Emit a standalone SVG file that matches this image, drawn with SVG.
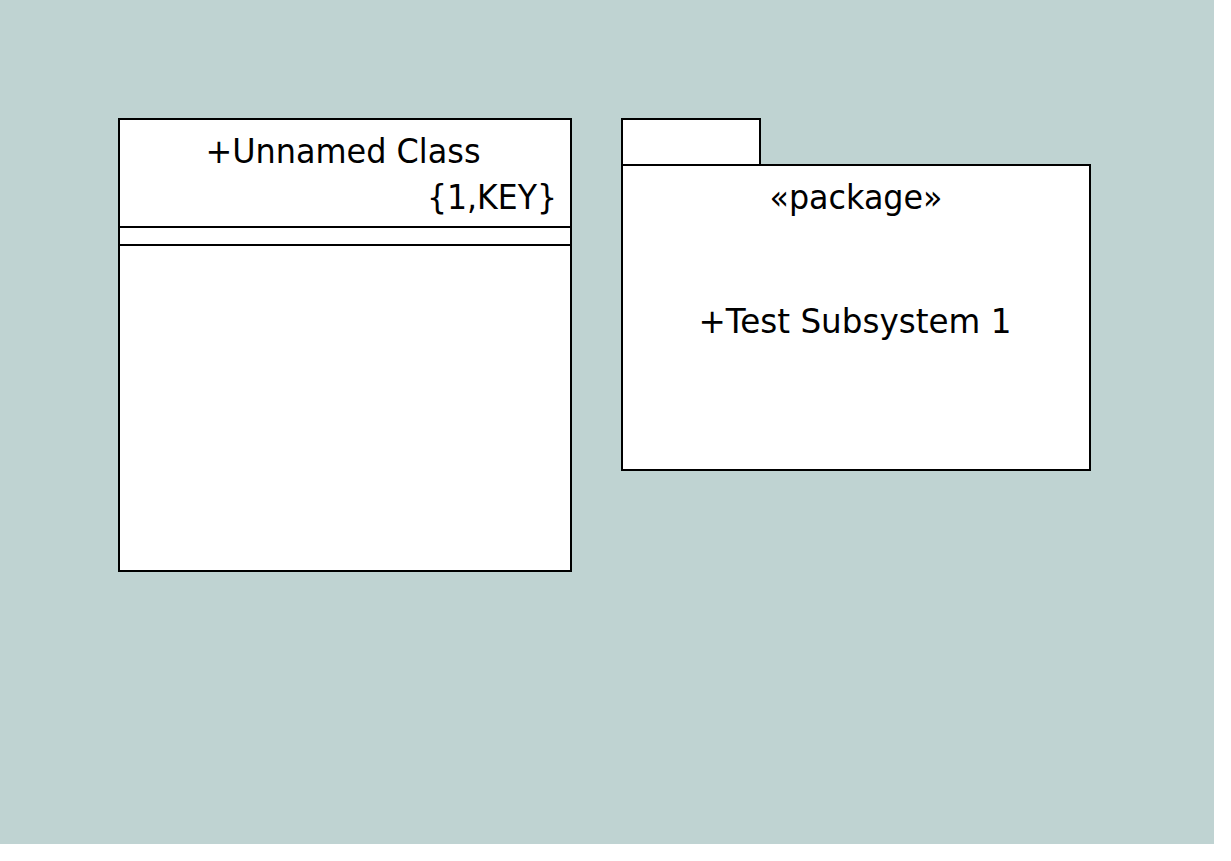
<svg xmlns="http://www.w3.org/2000/svg" width="1231" height="861" viewBox="0 0 1231 861">
<style>
.box{fill:#ffffff;stroke:#000000;stroke-width:2}
.ln{stroke:#000000;stroke-width:2}
text{font-family:"DejaVu Sans","Liberation Sans",sans-serif;font-size:33px;fill:#000000}
</style>
<rect x="0" y="0" width="1231" height="861" fill="#ffffff"/>
<rect x="0" y="0" width="1214" height="844" fill="#BFD3D2"/>
<g id="class1">
<rect class="box" x="119" y="119" width="452" height="452"/>
<line class="ln" x1="119" y1="227" x2="571" y2="227"/>
<line class="ln" x1="119" y1="245" x2="571" y2="245"/>
<text x="343" y="163" text-anchor="middle" textLength="275" lengthAdjust="spacingAndGlyphs">+Unnamed Class</text>
<text x="557" y="209" text-anchor="end" textLength="130" lengthAdjust="spacingAndGlyphs">{1,KEY}</text>
</g>
<g id="package1">
<rect class="box" x="622" y="119" width="138" height="46"/>
<rect class="box" x="622" y="165" width="468" height="305"/>
<text x="856" y="209" text-anchor="middle" textLength="173" lengthAdjust="spacingAndGlyphs">«package»</text>
<text x="855" y="333" text-anchor="middle" textLength="313" lengthAdjust="spacingAndGlyphs">+Test Subsystem 1</text>
</g>
<g id="connectors"/>
</svg>
